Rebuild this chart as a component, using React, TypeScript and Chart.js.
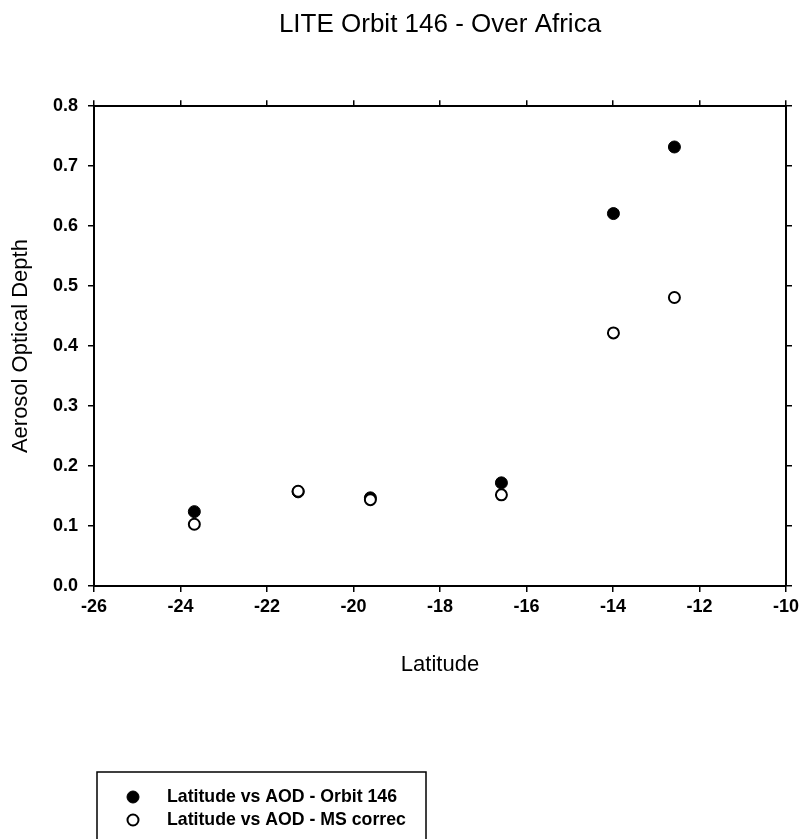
import React, { useEffect, useRef } from "react";
import { Chart, registerables } from "chart.js";

Chart.register(...registerables);

// ---- data ----
const latitudes = [-23.68, -21.28, -19.61, -16.58, -13.99, -12.58];
const aodOrbit146 = [0.124, 0.157, 0.147, 0.172, 0.621, 0.732];
const aodMsCorrec = [0.103, 0.158, 0.144, 0.152, 0.422, 0.481];
const seriesLabels = ["Latitude vs AOD - Orbit 146", "Latitude vs AOD - MS correc"];
const chartTitle = "LITE Orbit 146 - Over Africa";
const xAxisTitle = "Latitude";
const yAxisTitle = "Aerosol Optical Depth";
const xRange = [-26, -10];
const xStep = 2;
const yRange = [0, 0.8];
const yStep = 0.1;

const FONT = "'Liberation Sans', Arial, Helvetica, sans-serif";

const boxLegend = {
  id: "boxLegend",
  afterDraw(chart: any) {
    const ctx = chart.ctx;
    const ds = chart.data.datasets;
    ctx.save();
    ctx.strokeStyle = "#000";
    ctx.lineWidth = 1.5;
    ctx.strokeRect(97, 772, 329, 90);
    ctx.font = `bold 17.7px ${FONT}`;
    ctx.textBaseline = "middle";
    ctx.fillStyle = "#000";
    const rows = [797, 820];
    ds.forEach((d: any, i: number) => {
      const y = rows[i];
      ctx.beginPath();
      ctx.arc(133, y, d.pointRadius, 0, Math.PI * 2);
      ctx.fillStyle = d.pointBackgroundColor;
      ctx.fill();
      ctx.lineWidth = d.pointBorderWidth;
      ctx.strokeStyle = "#000";
      ctx.stroke();
      ctx.fillStyle = "#000";
      ctx.fillText(d.label, 167, y);
    });
    ctx.restore();
  },
};

export default function App() {
  const ref = useRef<HTMLCanvasElement | null>(null);
  useEffect(() => {
    if (!ref.current) return;
    const gridOpts = {
      drawOnChartArea: false,
      drawTicks: true,
      tickLength: 6,
      color: "#000",
      lineWidth: 1.5,
    };
    const borderOpts = { display: true, color: "#000", width: 2 };
    const tickFont = { family: FONT, size: 18, weight: "bold" as const };
    const chart = new Chart(ref.current, {
      type: "scatter",
      data: {
        datasets: [
          {
            label: seriesLabels[0],
            data: latitudes.map((x, i) => ({ x, y: aodOrbit146[i] })),
            pointRadius: 6,
            pointBackgroundColor: "#000",
            pointBorderColor: "#000",
            pointBorderWidth: 1,
            order: 1,
          },
          {
            label: seriesLabels[1],
            data: latitudes.map((x, i) => ({ x, y: aodMsCorrec[i] })),
            pointRadius: 5.5,
            pointBackgroundColor: "#fff",
            pointBorderColor: "#000",
            pointBorderWidth: 2,
            order: 0,
          },
        ],
      },
      options: {
        animation: false,
        responsive: false,
        layout: { padding: 0 },
        plugins: {
          legend: { display: false },
          tooltip: { enabled: false },
          title: {
            display: true,
            text: chartTitle,
            fullSize: false,
            color: "#000",
            font: { family: FONT, size: 26, weight: "normal" },
            padding: { top: 9, bottom: 60 },
          },
        },
        scales: {
          x: {
            type: "linear",
            position: "bottom",
            min: xRange[0],
            max: xRange[1],
            grid: gridOpts,
            border: borderOpts,
            ticks: { stepSize: xStep, color: "#000", font: tickFont, padding: 4, maxRotation: 0 },
            title: {
              display: true,
              text: xAxisTitle,
              color: "#000",
              font: { family: FONT, size: 22 },
              padding: { top: 0, bottom: 161 },
            },
            afterFit: (s: any) => { s.height = 253; },
          },
          x2: {
            type: "linear",
            position: "top",
            min: xRange[0],
            max: xRange[1],
            grid: gridOpts,
            border: borderOpts,
            ticks: { stepSize: xStep, display: false },
            afterFit: (s: any) => { s.height = 6; },
          },
          y: {
            type: "linear",
            position: "left",
            min: yRange[0],
            max: yRange[1],
            grid: gridOpts,
            border: borderOpts,
            ticks: {
              stepSize: yStep,
              color: "#000",
              font: tickFont,
              padding: 10,
              callback: (v: any) => Number(v).toFixed(1),
            },
            title: {
              display: true,
              text: yAxisTitle,
              color: "#000",
              font: { family: FONT, size: 22 },
              padding: { top: 8, bottom: 0 },
            },
            afterFit: (s: any) => { s.width = 94; },
          },
          y2: {
            type: "linear",
            position: "right",
            min: yRange[0],
            max: yRange[1],
            grid: gridOpts,
            border: borderOpts,
            ticks: { stepSize: yStep, display: false },
            afterFit: (s: any) => { s.width = 17; },
          },
        },
      },
      plugins: [boxLegend],
    });
    return () => chart.destroy();
  }, []);
  return (
    <div style={{ position: "absolute", left: 0, top: 0, width: 803, height: 839, background: "#fff" }}>
      <canvas ref={ref} width={803} height={839} style={{ display: "block" }} />
    </div>
  );
}
